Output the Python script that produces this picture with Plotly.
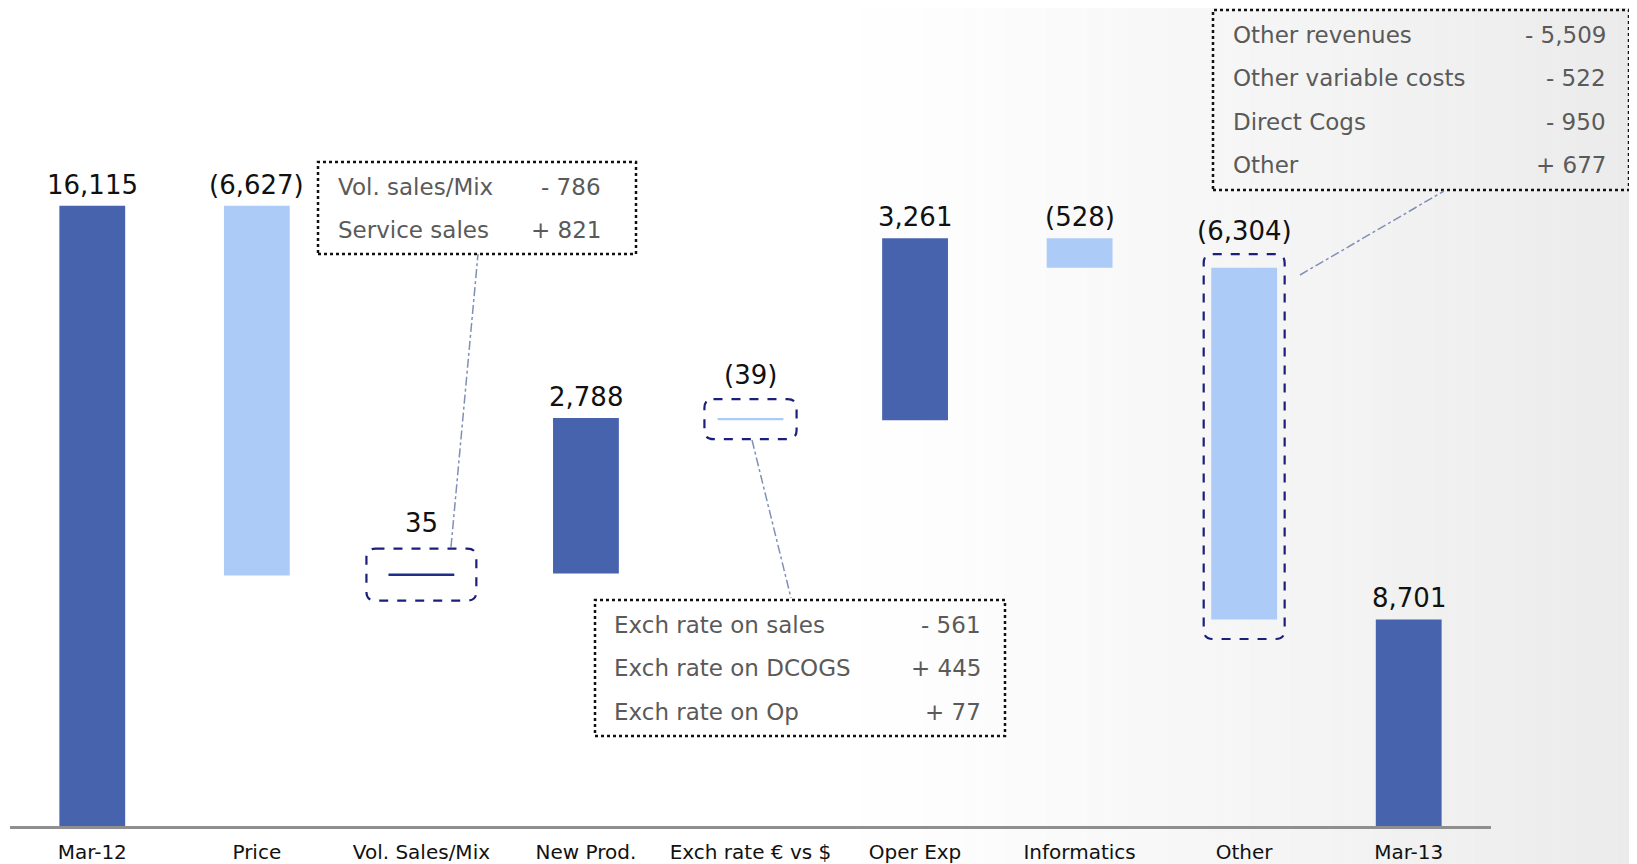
import plotly.graph_objects as go

# ---------------- data ----------------
categories = ["Mar-12", "Price", "Vol. Sales/Mix", "New Prod.", "Exch rate € vs $",
              "Oper Exp", "Informatics", "Other", "Mar-13"]
values = [16115, -6627, 35, 2788, -39, 3261, -528, -6304, 8701]
measures = ["total", "relative", "relative", "relative", "relative",
            "relative", "relative", "relative", "total"]

box1_labels = ["Vol. sales/Mix", "Service sales"]
box1_values = ["- 786", "+ 821"]
box2_labels = ["Exch rate on sales", "Exch rate on DCOGS", "Exch rate on Op"]
box2_values = ["- 561", "+ 445", "+ 77"]
box3_labels = ["Other revenues", "Other variable costs", "Direct Cogs", "Other"]
box3_values = ["- 5,509", "- 522", "- 950", "+ 677"]

# ---------------- style ----------------
DARK = "#4763AD"
LIGHT = "#ADCBF7"
NAVY = "#1B1F7A"
FONT = "DejaVu Sans"
OFF = 8                      # page body margin
W, H = 1637 - OFF, 864 - OFF
# plot area in screenshot pixels
SL, SR, ST, SB = 10, 1491, 8, 826
L, R, T, B = SL - OFF, SR - OFF, ST - OFF, SB - OFF
Y0 = 5000
Y1 = Y0 + (SB - ST) / 0.0558


def px(x):
    return (x - SL) / (SR - SL)


def py(y):
    return (SB - y) / (SB - ST)


# waterfall geometry from data
bases, heights, tops, bottoms, colors = [], [], [], [], []
run = 0
for v, m in zip(values, measures):
    if m == "total":
        bases.append(0)
        heights.append(v)
        tops.append(v)
        bottoms.append(0)
        run = v
        colors.append(DARK)
    else:
        s, e = run, run + v
        bases.append(min(s, e))
        heights.append(abs(v))
        tops.append(max(s, e))
        bottoms.append(min(s, e))
        run = e
        colors.append(DARK if v > 0 else LIGHT)
colors[2] = "#1C2E8C"

labels = [f"{v:,}" if v >= 0 else f"({abs(v):,})" for v in values]
xs = list(range(len(categories)))

fig = go.Figure()
fig.add_trace(go.Bar(x=xs, y=heights, base=bases, width=0.4,
                     marker=dict(color=colors, line=dict(width=0)),
                     hoverinfo="skip", showlegend=False))

shapes = []
# faint watermark gradient on the right
n = 40
x_start, x_end = 820, 1637
for i in range(n):
    xa = x_start + (x_end - x_start) * i / n
    xb = x_start + (x_end - x_start) * (i + 1) / n
    a = 0.08 * ((i + 0.5) / n) ** 1.2
    shapes.append(dict(type="rect", xref="paper", yref="paper",
                       x0=px(xa), x1=px(xb), y0=py(864), y1=py(0),
                       fillcolor=f"rgba(0,0,0,{a:.4f})", line=dict(width=0), layer="below"))


def rounded(xc, hw, yb, yt, rx=0.055, ry=160):
    x0, x1 = xc - hw, xc + hw
    return (f"M {x0+rx},{yt} L {x1-rx},{yt} Q {x1},{yt} {x1},{yt-ry} "
            f"L {x1},{yb+ry} Q {x1},{yb} {x1-rx},{yb} L {x0+rx},{yb} "
            f"Q {x0},{yb} {x0},{yb+ry} L {x0},{yt-ry} Q {x0},{yt} {x0+rx},{yt} Z")


# dashed highlight boxes around bars (data coords)
for idx, hw, pad_t, pad_b in [(2, 0.334, 448, 448), (4, 0.28, 340, 340), (7, 0.246, 245, 350)]:
    shapes.append(dict(type="path", xref="x", yref="y",
                       path=rounded(idx, hw, bottoms[idx] - pad_b, tops[idx] + pad_t),
                       line=dict(color=NAVY, width=2.2, dash="dash")))

# dotted text boxes
for (x0, x1, y0, y1) in [(318, 636, 162, 254), (595, 1005, 600, 736), (1213, 1629, 10, 190)]:
    shapes.append(dict(type="rect", xref="paper", yref="paper",
                       x0=px(x0), x1=px(x1), y0=py(y1), y1=py(y0),
                       line=dict(color="#111111", width=2.5, dash="dot")))

# leader lines
for (xa, ya, xb, yb) in [(451, 547, 478, 254), (752, 440, 791, 598), (1300, 275, 1444, 191)]:
    shapes.append(dict(type="line", xref="paper", yref="paper",
                       x0=px(xa), y0=py(ya), x1=px(xb), y1=py(yb),
                       line=dict(color="#8090B5", width=1.5, dash="dashdot")))

annotations = []
extra = [0, 0, 30, 0, 22, 0, 0, 16, 0]
for i, (t, top) in enumerate(zip(labels, tops)):
    annotations.append(dict(x=i, y=top, xref="x", yref="y", text=t, showarrow=False,
                            yanchor="bottom", yshift=4 + extra[i],
                            font=dict(family=FONT, size=26, color="#111111")))


def add_box_text(lbls, vals, xl, xr, ys):
    for lb, vl, yy in zip(lbls, vals, ys):
        annotations.append(dict(x=px(xl), y=py(yy), xref="paper", yref="paper", text=lb,
                                showarrow=False, xanchor="left", yanchor="middle",
                                font=dict(family=FONT, size=23, color="#5A5A5A")))
        annotations.append(dict(x=px(xr), y=py(yy), xref="paper", yref="paper", text=vl,
                                showarrow=False, xanchor="right", yanchor="middle",
                                font=dict(family=FONT, size=23, color="#5A5A5A")))


add_box_text(box1_labels, box1_values, 336, 603, [187, 230])
add_box_text(box2_labels, box2_values, 612, 983, [625, 668, 712])
add_box_text(box3_labels, box3_values, 1231, 1608, [35.5, 78, 122, 165])

fig.update_layout(
    width=W, height=H,
    margin=dict(l=L, r=W - R, t=T, b=H - B, autoexpand=False),
    paper_bgcolor="white", plot_bgcolor="rgba(0,0,0,0)",
    shapes=shapes, annotations=annotations,
    showlegend=False,
    xaxis=dict(range=[-0.5, 8.5], tickvals=xs, ticktext=categories,
               showgrid=False, zeroline=False, showline=True,
               linecolor="#8F8F8F", linewidth=3, ticks="",
               ticklabelstandoff=6,
               tickfont=dict(family=FONT, size=20, color="#111111")),
    yaxis=dict(range=[Y0, Y1], visible=False, showgrid=False, zeroline=False),
)

fig.write_html("out.html")
